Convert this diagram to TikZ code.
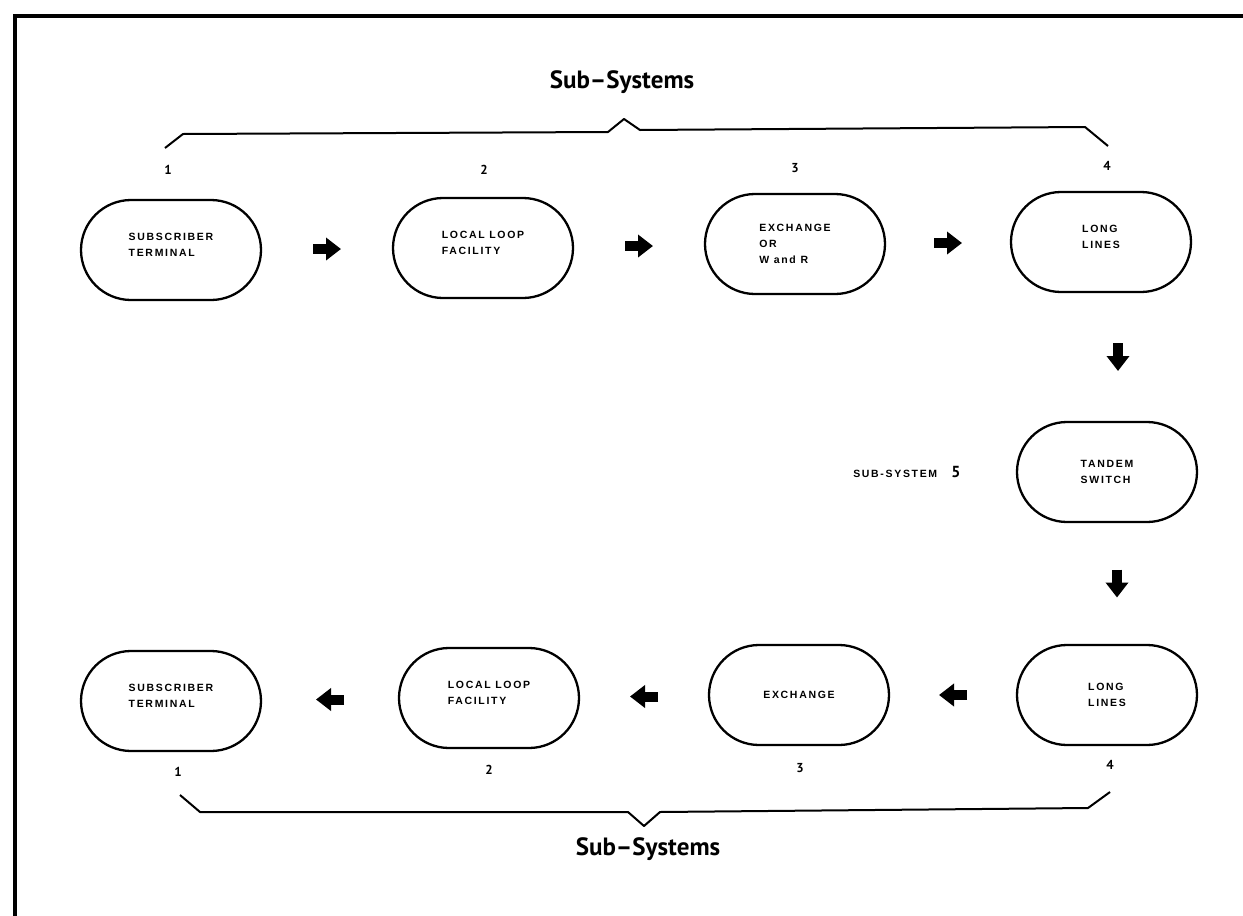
\documentclass[tikz,border=0pt]{standalone}
\usepackage{fontspec}
\setmainfont{PT Sans}
\newfontfamily\boxfont[LetterSpace=16]{Liberation Sans}
\usetikzlibrary{shapes.misc,arrows.meta,calc}
\begin{document}
\begin{tikzpicture}[x=1pt,y=-1pt,
  sbox/.style={draw,line width=2.3pt,rounded rectangle,minimum width=180pt,minimum height=100pt,
    inner sep=0pt,align=left,font=\boxfont\bfseries\fontsize{10.5}{16}\selectfont},
  fat/.style={line width=10pt,-{Triangle[length=15pt,width=22pt]}},
  brace/.style={line width=2pt,line join=round},
  num/.style={font=\bfseries\fontsize{13}{13}\selectfont},
  title/.style={font=\bfseries\fontsize{25}{25}\selectfont}]
\useasboundingbox (0,0) rectangle (1243,916);
\fill[white] (0,0) rectangle (1243,916);
% open frame: top and left edges
\draw[line width=3.2pt] (15,916) -- (15,16) -- (1243,16);

% first row
\node[sbox] (t1) at (171,250) {SUBSCRIBER\\TERMINAL\\[-6pt]};
\node[sbox] (t2) at (483,248) {LOCAL LOOP\\FACILITY\\[-6pt]};
\node[sbox] (t3) at (795,244) {EXCHANGE\\OR\\W and R};
\node[sbox] (t4) at (1101,242) {LONG\\LINES\\[-6pt]};
% middle
\node[sbox] (ts) at (1107,472) {TANDEM\\SWITCH};
\node[anchor=east] (s5) at ([xshift=-52pt]ts.west) {{\boxfont\bfseries\fontsize{10.5}{10}\selectfont SUB-SYSTEM}\hspace{14pt}{\bfseries\fontsize{16}{16}\selectfont 5}};
% second row
\node[sbox] (b4) at (1107,695) {LONG\\LINES};
\node[sbox] (b3) at (799,695) {EXCHANGE};
\node[sbox] (b2) at (489,698) {LOCAL LOOP\\FACILITY\\[-6pt]};
\node[sbox] (b1) at (171,701) {SUBSCRIBER\\TERMINAL\\[-6pt]};

% flow arrows
\draw[fat] ($(t1.east)!0.5!(t2.west)+(-14,0)$) -- ++(28,0);
\draw[fat] ($(t2.east)!0.5!(t3.west)+(-14,0)$) -- ++(28,0);
\draw[fat] ($(t3.east)!0.5!(t4.west)+(-14,0)$) -- ++(28,0);
\draw[fat] ($(t4.south)!0.5!(ts.north)+(14,-14)$) -- ++(0,28);
\draw[fat] ($(ts.south)!0.5!(b4.north)+(10,-14)$) -- ++(0,28);
\draw[fat] ($(b4.west)!0.5!(b3.east)+(14,0)$) -- ++(-28,0);
\draw[fat] ($(b3.west)!0.5!(b2.east)+(14,0)$) -- ++(-28,0);
\draw[fat] ($(b2.west)!0.5!(b1.east)+(14,0)$) -- ++(-28,0);

% sub-system numbers
\node[num] (n1) at (168,170) {1};
\node[num] (n2) at (484,170) {2};
\node[num] (n3) at (795,168) {3};
\node[num] (n4) at (1107,166) {4};
\node[num] (m1) at (178,772) {1};
\node[num] (m2) at (489,770) {2};
\node[num] (m3) at (800,768) {3};
\node[num] (m4) at (1110,765) {4};

% braces
\draw[brace] (165,148) -- (183,134) -- (608,132) -- (624,119) -- (640,130) -- (1085,127) -- (1108,146);
\draw[brace] (180,795) -- (200,812) -- (628,812) -- (644,826) -- (660,812) -- (1088,808) -- (1110,792);
\node[title] (h1) at (622,82) {Sub–Systems};
\node[title] (h2) at (648,849) {Sub–Systems};
\end{tikzpicture}
\end{document}
